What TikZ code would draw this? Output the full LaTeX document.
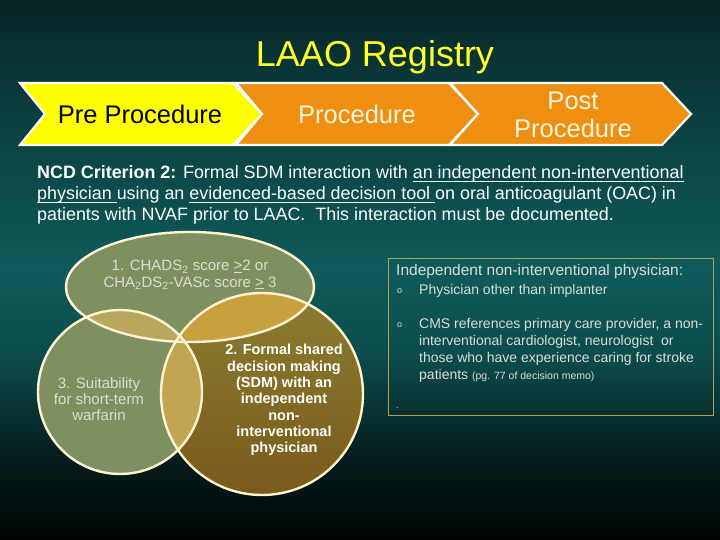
\documentclass[tikz,border=0pt]{standalone}
\usepackage{fontspec}
\setmainfont{Liberation Sans}
\definecolor{bgTop}{HTML}{062424}
\definecolor{bgUp}{HTML}{0A3535}
\definecolor{bgMid}{HTML}{0E5B5B}
\definecolor{bgMid2}{HTML}{0C4C4C}
\definecolor{bgLow}{HTML}{051E1E}
\definecolor{bgBot}{HTML}{010404}
\definecolor{chevYellow}{HTML}{FFFF00}
\definecolor{chevOrange}{HTML}{EF8F12}
\definecolor{cream}{HTML}{FFF6DC}
\definecolor{titleYellow}{HTML}{FFFF2E}
\definecolor{vennGreen}{HTML}{7E8F60}
\definecolor{vennTop}{HTML}{8A7D30}
\definecolor{vennBot}{HTML}{7A5A1C}
\definecolor{lensA}{HTML}{B8A75C}
\definecolor{lensB}{HTML}{C8A03E}
\definecolor{lensC}{HTML}{C2A552}
\definecolor{lensD}{HTML}{D6B560}
\definecolor{vennLine}{HTML}{FFF3D2}
\definecolor{boxGold}{HTML}{B5A04E}
\definecolor{txtGrey}{HTML}{DCDCD4}
\newcommand{\myul}[1]{\setbox0\hbox{#1}\rlap{\rule[-3.2pt]{\wd0}{0.9pt}}\box0}
\pgfdeclareverticalshading{bgshade}{100bp}{color(0bp)=(bgBot); color(25bp)=(bgBot); color(33bp)=(bgLow); color(42bp)=(bgMid2); color(50bp)=(bgMid); color(69bp)=(bgUp); color(75bp)=(bgTop); color(100bp)=(bgTop)}
\tikzset{
  chevbox/.style={line width=2.2pt, draw=white, line join=miter},
  chevshadow/.style={line width=1.2pt, draw=black!85, line join=miter},
  chevtext/.style={font=\fontsize{25.5}{28}\selectfont, align=center, inner sep=0pt},
  vennline/.style={draw=vennLine, line width=2.4pt},
  venntxt/.style={font=\fontsize{15}{16.3}\selectfont, align=center, text=txtGrey, inner sep=0pt},
  ncdline/.style={font=\fontsize{17.9}{21}\selectfont, anchor=base west, inner sep=0pt, text=white},
  boxtxt/.style={font=\fontsize{14}{17}\selectfont, anchor=base west, inner sep=0pt, text=txtGrey, align=left},
  bullet/.style={font=\fontsize{9}{10}\selectfont, anchor=base west, inner sep=0pt, text=txtGrey}
}
\begin{document}
\begin{tikzpicture}[x=1pt,y=-1pt]
\useasboundingbox (0,0) rectangle (720,540);
\shade[shading=bgshade] (0,0) rectangle (720,540);

% title
\node[font=\fontsize{36}{40}\selectfont, text=titleYellow, inner sep=0pt] (title) at (375,57) {LAAO Registry};

% chevrons
\draw[chevshadow] ([xshift=-3pt]236,83) -- ([xshift=-3pt]262,114) -- ([xshift=-3pt]236,145);
\draw[chevshadow] ([xshift=-3pt]450,83) -- ([xshift=-3pt]478,114) -- ([xshift=-3pt]450,145);
\filldraw[chevbox, fill=chevYellow] (20,83) -- (233,83) -- (262,114) -- (233,145) -- (20,145) -- (45,114) -- cycle;
\filldraw[chevbox, fill=chevOrange] (236,83) -- (449,83) -- (478,114) -- (449,145) -- (236,145) -- (262,114) -- cycle;
\filldraw[chevbox, fill=chevOrange] (450,83) -- (662,83) -- (691,114) -- (662,145) -- (450,145) -- (478,114) -- cycle;
\node[chevtext, text=black] (pre) at (140,114) {Pre Procedure};
\node[chevtext, text=cream] (proc) at (357,114) {Procedure};
\node[chevtext, text=cream] (post) at (573,115) {Post\\Procedure};

% NCD text
\node[ncdline] (ncd1) at (37,179) {\textbf{NCD Criterion 2:} Formal SDM interaction with \myul{an independent non-interventional}};
\node[ncdline] (ncd2) at (37,200) {\myul{physician }using an \myul{evidenced-based decision tool }on oral anticoagulant (OAC) in};
\node[ncdline] (ncd3) at (37,221) {patients with NVAF prior to LAAC.\ \ This interaction must be documented.};

% Venn
\def\Eone{(190,287) ellipse [x radius=124pt, y radius=55pt]}
\def\Cthree{(120,392) circle [radius=82pt]}
\def\Ctwo{(262,394) circle [radius=101pt]}
\fill[vennGreen] \Eone;
\fill[vennGreen] \Cthree;
\shade[top color=vennTop, bottom color=vennBot] \Ctwo;
\begin{scope}\clip \Eone; \fill[lensA] \Cthree; \end{scope}
\begin{scope}\clip \Eone; \fill[lensB] \Ctwo; \end{scope}
\begin{scope}\clip \Cthree; \fill[lensC] \Ctwo; \end{scope}
\begin{scope}\clip \Eone; \clip \Cthree; \fill[lensD] \Ctwo; \end{scope}
\draw[vennline] \Eone;
\draw[vennline] \Cthree;
\draw[vennline] \Ctwo;
\node[venntxt] (v1) at (190,275) {1. CHADS\textsubscript{2} score \underline{>}2 or\\CHA\textsubscript{2}DS\textsubscript{2}-VASc score \underline{>} 3};
\node[venntxt] (v3) at (99,399) {3. Suitability\\for short-term\\warfarin};
\node[venntxt, text=white, font=\fontsize{14.5}{16.3}\selectfont\bfseries] (v2) at (284,400) {2. Formal shared\\decision making\\(SDM) with an\\independent\\non-\\interventional\\physician};

% right box
\node[draw=boxGold, line width=1.2pt, minimum width=325pt, minimum height=157pt, anchor=north west, inner sep=0pt] (box) at (388,258) {};
\node[boxtxt, font=\fontsize{15.5}{17}\selectfont] (bh) at (396,275) {Independent non-interventional physician:};
\node[bullet] (b1) at (397,293) {o};
\node[boxtxt] (bt1) at (419,294) {Physician other than implanter};
\node[bullet] (b2) at (397,327) {o};
\node[boxtxt] (bt2a) at (419,328) {CMS references primary care provider, a non-};
\node[boxtxt] (bt2b) at (419,345) {interventional cardiologist, neurologist\ \ or};
\node[boxtxt] (bt2c) at (419,362) {those who have experience caring for stroke};
\node[boxtxt] (bt2d) at (419,379) {patients {\fontsize{10.5}{12}\selectfont (pg. 77 of decision memo)}};
\node[bullet] (dot) at (396,408) {.};
\end{tikzpicture}
\end{document}
